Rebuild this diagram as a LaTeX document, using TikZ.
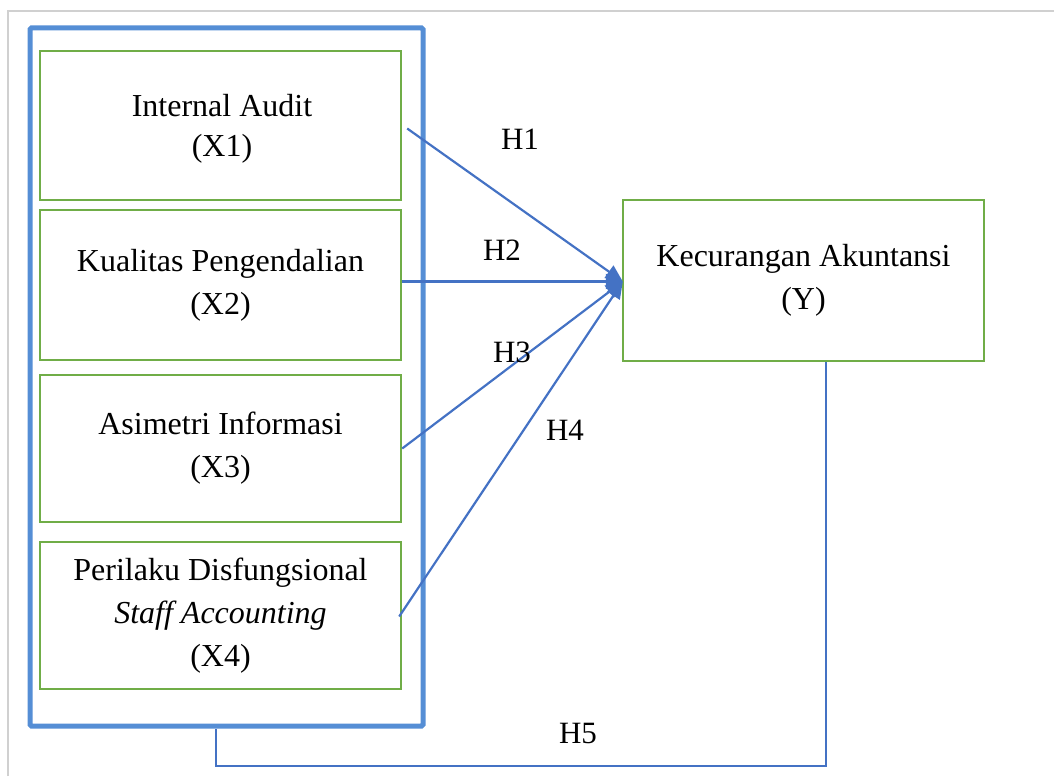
\documentclass[tikz,border=0pt]{standalone}
\usepackage{fontspec}
\setmainfont{Liberation Serif}
\usetikzlibrary{arrows.meta,calc}
\definecolor{framegray}{RGB}{208,208,208}
\definecolor{grpblue}{RGB}{85,142,213}
\definecolor{lineblue}{RGB}{68,114,196}
\definecolor{boxgreen}{RGB}{112,173,71}
\begin{document}
\begin{tikzpicture}[x=1pt,y=-1pt,
  txt/.style={font=\fontsize{32}{43}\selectfont, align=center},
  varbox/.style={txt, draw=boxgreen, line width=2.4pt, inner sep=0pt, minimum width=361pt},
  grpbox/.style={draw=grpblue, line width=5pt, rounded corners=1.5pt, inner sep=0pt},
  conn/.style={draw=lineblue, line width=2.2pt},
  arr/.style={conn, -{Triangle[length=17pt,width=15pt]}},
  hlabel/.style={font=\fontsize{31}{37}\selectfont, inner sep=0pt}
]
\useasboundingbox (0,0) rectangle (1054,776);
% outer light frame (top and left only)
\draw[framegray, line width=1.5pt] (8,776) -- (8,11) -- (1054,11);
% group box
\node[grpbox, minimum width=393pt, minimum height=698pt] (grp) at (226.5,377) {};
% variable boxes
\node[varbox, minimum height=149pt] (x1) at (220.5,125.5) {};
\node[txt] (x1t) at (222,129) {Internal Audit\\[-3pt](X1)};
\node[varbox, minimum height=150pt] (x2) at (220.5,285) {Kualitas Pengendalian\\(X2)};
\node[varbox, minimum height=147pt] (x3) at (220.5,448.5) {Asimetri Informasi\\(X3)};
\node[varbox, minimum height=147pt] (x4) at (220.5,615.5) {Perilaku Disfungsional\\\textit{Staff Accounting}\\(X4)};
\node[varbox, minimum width=361pt, minimum height=161pt] (y) at (803.5,280.5) {Kecurangan Akuntansi\\(Y)};
% connectors
\coordinate (tip) at ($(y.west)+(1,1)$);
\draw[arr] ($(x1.east)+(5,3)$) -- (tip);
\draw[arr] (x2.east |- tip) -- (tip);
\draw[arr] (x3.east) -- (tip);
\draw[arr] ($(x4.east)+(-3,1)$) -- (tip);
\coordinate (b1) at (216,729);
\coordinate (b2) at (826,766);
\draw[conn] (b1) |- (b2) -- (y.south -| b2);
% labels
\node[hlabel] (h1) at (520,139) {H1};
\node[hlabel] (h2) at (502,250) {H2};
\node[hlabel] (h3) at (512,352) {H3};
\node[hlabel] (h4) at (565,430) {H4};
\node[hlabel] (h5) at (578,733) {H5};
\end{tikzpicture}
\end{document}
